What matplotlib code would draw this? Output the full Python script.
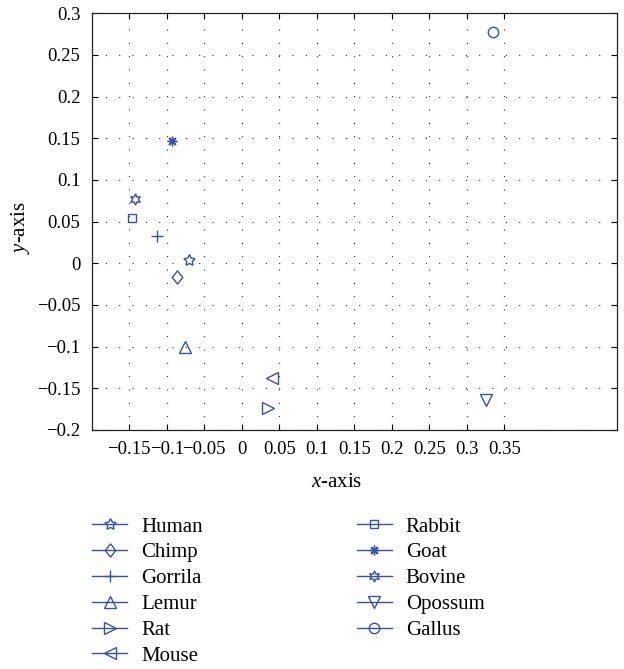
import matplotlib
matplotlib.use("Agg")
import matplotlib.pyplot as plt
from matplotlib.lines import Line2D
from matplotlib.path import Path

plt.rcParams['font.family'] = ['Liberation Serif', 'DejaVu Serif']
plt.rcParams['mathtext.fontset'] = 'custom'
plt.rcParams['mathtext.rm'] = 'Liberation Serif'
plt.rcParams['mathtext.it'] = 'Liberation Serif:italic'
plt.rcParams['axes.unicode_minus'] = True

species = ['Human', 'Chimp', 'Gorrila', 'Lemur', 'Rat', 'Mouse',
           'Rabbit', 'Goat', 'Bovine', 'Opossum', 'Gallus']
x_vals = [-0.070, -0.086, -0.113, -0.076, 0.035, 0.040,
          -0.146, -0.093, -0.142, 0.325, 0.335]
y_vals = [0.004, -0.017, 0.033, -0.100, -0.174, -0.138,
          0.054, 0.147, 0.077, -0.164, 0.278]
x_ticks = [-0.15, -0.1, -0.05, 0, 0.05, 0.1, 0.15, 0.2, 0.25, 0.3, 0.35]
x_ticklabels = ['\u22120.15', '\u22120.1', '\u22120.05', '0', '0.05', '0.1',
                '0.15', '0.2', '0.25', '0.3', '0.35']
y_ticks = [-0.2, -0.15, -0.1, -0.05, 0, 0.05, 0.1, 0.15, 0.2, 0.25, 0.3]
y_ticklabels = ['\u22120.2', '\u22120.15', '\u22120.1', '\u22120.05', '0', '0.05',
                '0.1', '0.15', '0.2', '0.25', '0.3']

diamond = Path([(0, 1), (0.8, 0), (0, -1), (-0.8, 0), (0, 1)],
               [Path.MOVETO, Path.LINETO, Path.LINETO, Path.LINETO, Path.CLOSEPOLY])
markers = [(5, 1, 0), diamond, '+', '^', '>', '<',
           's', (8, 2, 0), (6, 1, 0), 'v', 'o']
sizes = [8.5, 9.5, 8, 8, 8, 8, 5.5, 7, 8, 8, 7.5]

color = '#3550b0'
fs = 13.5
lfs = 15

fig = plt.figure(figsize=(6.24, 6.69), dpi=100)
ax = fig.add_axes([91.7/624, 1-430/669, (617-91.7)/624, (430-13.3)/669])

handles = []
for name, xv, yv, m, s in zip(species, x_vals, y_vals, markers, sizes):
    ax.plot([xv], [yv], linestyle='none', marker=m, markersize=s,
            markerfacecolor='none', markeredgecolor=color, markeredgewidth=1.0)
    handles.append(Line2D([], [], color=color, lw=1.0, marker=m, markersize=s,
                          markerfacecolor='none', markeredgecolor=color,
                          markeredgewidth=1.0, label=name))

ax.set_xlim(-0.2, 0.5)
ax.set_ylim(-0.2, 0.3)
ax.set_xticks(x_ticks)
ax.set_xticklabels(x_ticklabels)
ax.set_yticks(y_ticks)
ax.set_yticklabels(y_ticklabels)
ax.tick_params(direction='in', top=True, right=True, length=4, width=0.8,
               labelsize=fs, pad=8)
ax.grid(True, color='#333333', linestyle=(0, (1, 11)), linewidth=0.8)
for sp in ax.spines.values():
    sp.set_linewidth(0.9)
    sp.set_color('#222222')

ax.set_xlabel('$x$-axis', fontsize=lfs)
ax.xaxis.set_label_coords(0.466, -0.102)
ax.set_ylabel('$y$-axis', fontsize=lfs)
ax.yaxis.set_label_coords(-0.113, 0.485)

fig.legend(handles=handles, ncol=2, loc='upper left', frameon=False,
           bbox_to_anchor=(92/624, 1-517/669), fontsize=lfs, borderpad=0,
           handlelength=1.68, handletextpad=0.67, columnspacing=7.4,
           labelspacing=0.3, borderaxespad=0)

fig.savefig('out.png', dpi=100)
